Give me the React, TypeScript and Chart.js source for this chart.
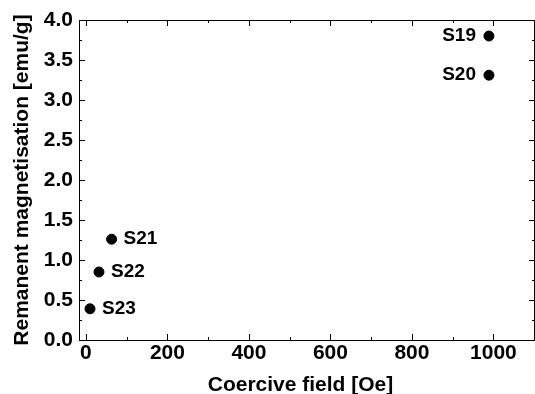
import React, { useEffect, useRef } from "react";
import { Chart, registerables } from "chart.js";

Chart.register(...registerables);

const sampleNames = ["S19", "S20", "S21", "S22", "S23"];
const coerciveField = [989, 989, 63, 32, 10];
const remanentMag = [3.8, 3.31, 1.26, 0.85, 0.39];
const labelSide = ["left", "left", "right", "right", "right"];

const xTicks = [0, 200, 400, 600, 800, 1000];
const xMinorTicks = [100, 300, 500, 700, 900];
const yTicks = [0, 0.5, 1, 1.5, 2, 2.5, 3, 3.5, 4];
const yMinorTicks = [0.25, 0.75, 1.25, 1.75, 2.25, 2.75, 3.25, 3.75];

const xTitle = "Coercive field [Oe]";
const yTitle = "Remanent magnetisation [emu/g]";

const FONT = "'Liberation Sans', Arial, Helvetica, sans-serif";

const framePlugin = {
  id: "frameAndLabels",
  afterDraw(chart: any) {
    const { ctx, chartArea } = chart;
    const xs = chart.scales.x;
    const ys = chart.scales.y;
    const { left, right, top, bottom } = chartArea;
    ctx.save();
    ctx.strokeStyle = "#000";
    ctx.lineWidth = 1;
    ctx.beginPath();
    ctx.moveTo(left + 0.5, top + 0.5);
    ctx.lineTo(right + 0.5, top + 0.5);
    ctx.moveTo(left + 0.5, top);
    ctx.lineTo(left + 0.5, bottom + 1);
    ctx.moveTo(left, bottom + 0.5);
    ctx.lineTo(right + 1, bottom + 0.5);
    ctx.moveTo(right - 0.5, top);
    ctx.lineTo(right - 0.5, bottom + 1);
    const major = 6;
    const minor = 3;
    xTicks.forEach((v) => {
      const p = Math.round(xs.getPixelForValue(v)) + 0.5;
      ctx.moveTo(p, bottom);
      ctx.lineTo(p, bottom - major);
      ctx.moveTo(p, top);
      ctx.lineTo(p, top + major);
    });
    xMinorTicks.forEach((v) => {
      const p = Math.round(xs.getPixelForValue(v)) + 0.5;
      ctx.moveTo(p, bottom);
      ctx.lineTo(p, bottom - minor);
      ctx.moveTo(p, top);
      ctx.lineTo(p, top + minor);
    });
    yTicks.forEach((v) => {
      const p = Math.round(ys.getPixelForValue(v)) + 0.5;
      ctx.moveTo(left, p);
      ctx.lineTo(left + major, p);
      ctx.moveTo(right, p);
      ctx.lineTo(right - major, p);
    });
    yMinorTicks.forEach((v) => {
      const p = Math.round(ys.getPixelForValue(v)) + 0.5;
      ctx.moveTo(left, p);
      ctx.lineTo(left + minor, p);
      ctx.moveTo(right, p);
      ctx.lineTo(right - minor, p);
    });
    ctx.stroke();

    ctx.fillStyle = "#000";
    ctx.font = `bold 19px ${FONT}`;
    ctx.textBaseline = "middle";
    sampleNames.forEach((name, i) => {
      const px = xs.getPixelForValue(coerciveField[i]);
      const py = ys.getPixelForValue(remanentMag[i]);
      if (labelSide[i] === "left") {
        ctx.textAlign = "right";
        ctx.fillText(name, px - 13, py);
      } else {
        ctx.textAlign = "left";
        ctx.fillText(name, px + 12, py);
      }
    });

    // axis titles
    ctx.font = `bold 21px ${FONT}`;
    ctx.textAlign = "center";
    ctx.textBaseline = "alphabetic";
    ctx.fillText(xTitle, 300.5, 391);
    ctx.save();
    ctx.translate(28, (top + bottom) / 2);
    ctx.rotate(-Math.PI / 2);
    ctx.fillText(yTitle, 0, 0);
    ctx.restore();
    ctx.restore();
  },
};

export default function App() {
  const canvasRef = useRef<HTMLCanvasElement | null>(null);

  useEffect(() => {
    if (!canvasRef.current) return;
    const chart = new Chart(canvasRef.current, {
      type: "scatter",
      data: {
        datasets: [
          {
            data: coerciveField.map((x, i) => ({ x, y: remanentMag[i] })),
            backgroundColor: "#000",
            borderColor: "#000",
            pointRadius: 5,
            pointHoverRadius: 5,
          },
        ],
      },
      options: {
        animation: false,
        responsive: false,
        maintainAspectRatio: false,
        layout: { autoPadding: false, padding: { top: 20, right: -3, left: 0, bottom: 0 } },
        plugins: {
          legend: { display: false },
          tooltip: { enabled: false },
        },
        scales: {
          x: {
            type: "linear",
            min: -17,
            max: 1102,
            afterBuildTicks: (s: any) => {
              s.ticks = xTicks.map((v) => ({ value: v }));
            },
            afterFit: (s: any) => {
              s.height = 54;
              s.paddingLeft = 0;
              s.paddingRight = 0;
            },
            grid: { display: false, drawTicks: false },
            border: { display: false },
            ticks: {
              color: "#000",
              padding: 1,
              maxRotation: 0,
              callback: (v: any) => String(v),
              font: { family: FONT, size: 21, weight: "bold" },
            },
            title: { display: false },
          },
          y: {
            type: "linear",
            min: 0,
            max: 4,
            afterBuildTicks: (s: any) => {
              s.ticks = yTicks.map((v) => ({ value: v }));
            },
            afterFit: (s: any) => {
              s.width = 79;
              s.paddingTop = 0;
              s.paddingBottom = 0;
            },
            grid: { display: false, drawTicks: false },
            border: { display: false },
            ticks: {
              color: "#000",
              padding: 6,
              callback: (v: any) => Number(v).toFixed(1),
              font: { family: FONT, size: 21, weight: "bold" },
            },
            title: { display: false },
          },
        },
      },
      plugins: [framePlugin],
    });
    return () => chart.destroy();
  }, []);

  return (
    <div style={{ position: "fixed", left: 0, top: 0, width: 535, height: 394, background: "#fff" }}>
      <canvas ref={canvasRef} width={535} height={394} style={{ display: "block" }} />
    </div>
  );
}
